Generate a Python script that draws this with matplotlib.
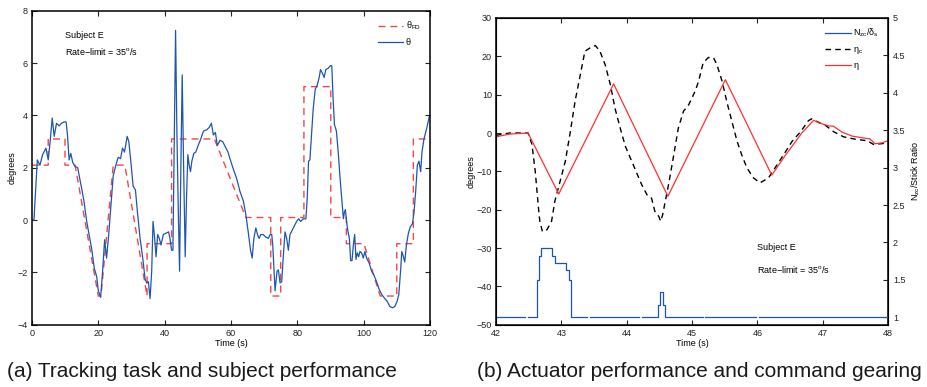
import numpy as np
import matplotlib
matplotlib.use("Agg")
import matplotlib.pyplot as plt

plt.rcParams['font.family'] = ['Liberation Sans', 'DejaVu Sans']
plt.rcParams['mathtext.fontset'] = 'custom'
plt.rcParams['mathtext.rm'] = 'Liberation Sans'
plt.rcParams['mathtext.it'] = 'Liberation Sans:italic'
plt.rcParams['mathtext.bf'] = 'Liberation Sans:bold'

# ---- (a) tracking task: commanded theta_FD and pilot theta ----
fd_t = [0, 4.9, 4.9, 9.95, 9.95, 13.0, 20.0, 20.8, 24.5, 28.0, 34.7, 34.7, 42.1, 42.1,
        55.0, 64.5, 72.0, 72.0, 75.0, 75.0, 82.0, 82.0, 90.1, 90.1, 94.8, 94.8, 100.1,
        105.0, 110.0, 110.0, 115.0, 115.0, 120]
fd_v = [2.1, 2.1, 3.1, 3.1, 2.1, 2.1, -2.9, -2.9, 2.1, 2.1, -2.9, -0.9, -0.9, 3.1,
        3.1, 0.1, 0.1, -2.9, -2.9, 0.1, 0.1, 5.1, 5.1, 0.1, 0.1, -0.9, -0.9,
        -2.9, -2.9, -0.9, -0.9, 3.1, 3.1]

th_t = [0, 0.6, 1.6, 2.4, 3.2, 4.2, 4.9, 5.4, 6.1, 6.7, 7.4, 8.2, 8.9, 9.7, 10.3, 10.7,
        11.2, 11.7, 12.3, 13.0, 13.8, 14.3, 15.0, 15.7, 16.5, 17.3, 18.0, 18.8, 19.5,
        20.0, 20.7, 21.3, 21.9, 22.5, 23.1, 23.8, 24.5, 25.3, 26.0, 26.7, 27.3, 27.9,
        28.7, 29.2, 29.8, 30.5, 31.2, 31.8, 32.6, 33.4, 34.1, 34.6, 35.1, 35.6, 36.1,
        36.5, 37.0, 37.4, 37.9, 38.4, 38.9, 39.6, 40.4, 41.2, 41.6, 42.1, 42.5, 42.9,
        43.3, 43.7, 44.1, 44.5, 44.9, 45.3, 45.7, 46.2, 46.6, 47.0, 47.4, 47.8, 48.2,
        48.8, 49.4, 50.1, 50.9, 51.7, 52.7, 53.5, 54.1, 54.7, 55.3, 55.9, 56.7, 57.5,
        58.3, 59.1, 59.7, 60.7, 61.7, 62.7, 63.7, 64.5, 65.2, 65.9, 66.4, 66.9, 67.5,
        68.0, 68.5, 69.0, 69.7, 70.5, 71.3, 71.8, 72.3, 72.6, 73.0, 73.3, 73.9, 74.3,
        74.8, 75.3, 75.8, 76.3, 76.8, 77.3, 77.8, 78.8, 79.8, 80.4, 81.0, 81.8, 82.6,
        83.0, 83.4, 83.8, 84.2, 84.8, 85.4, 86.0, 86.6, 87.0, 87.6, 88.1, 88.6, 89.3,
        90.0, 90.4, 90.8, 91.2, 91.8, 92.4, 92.9, 93.4, 93.9, 94.2, 94.5, 95.0, 95.3,
        95.7, 96.1, 96.5, 96.9, 97.3, 97.7, 98.1, 98.5, 98.9, 99.4, 99.9, 100.4, 100.9,
        101.7, 102.4, 103.1, 103.9, 104.7, 105.5, 106.4, 107.1, 107.9, 108.7, 109.4,
        110.1, 110.6, 111.2, 111.5, 111.9, 112.4, 112.9, 113.5, 114.1, 114.7, 115.2,
        115.7, 116.2, 116.7, 117.2, 117.6, 118.2, 119.0, 119.8, 120]
th_v = [0, 0, 2.3, 2.1, 2.5, 2.75, 2.3, 2.9, 3.9, 3.2, 3.7, 3.6, 3.7, 3.75, 3.75, 3.25,
        2.3, 2.55, 2.2, 2.05, 2.0, 1.65, 1.2, 0.7, -0.05, -0.6, -1.1, -1.85, -2.15,
        -2.7, -2.95, -1.95, -0.75, -1.45, -0.6, 0.55, 1.7, 2.1, 2.4, 2.35, 2.75, 2.6,
        3.2, 3.0, 2.25, 1.3, 1.15, 0.3, -0.7, -1.45, -2.25, -2.4, -2.35, -3.0, -1.95,
        -0.05, -0.7, -1.4, -0.55, -0.7, -0.95, -0.55, -0.5, -0.45, -0.7, -1.15, -1.15, 3.1,
        7.25, 3.35, 0.5, -1.95, 2.1, 5.55, 2.2, -1.4, 0.85, 2.5, 2.1, 1.85, 2.25,
        2.55, 2.6, 2.85, 3.1, 3.4, 3.45, 3.55, 3.7, 3.25, 3.35, 2.85, 3.05, 3.0,
        2.8, 2.6, 2.35, 1.95, 1.6, 1.1, 0.75, 0.2, -0.45, -1.15, -1.45, -0.7, -0.3,
        -0.55, -0.7, -0.55, -0.55, -0.65, -0.7, -0.55, -0.55, -0.95, -1.95, -2.7, -1.95, -1.9,
        -2.4, -2.35, -1.35, -0.45, -0.7, -1.15, -0.55, -0.3, -0.05, 0.05, -0.05, 0.05, 0.05,
        0.85, 2.25, 2.3, 3.1, 4.25, 5.0, 5.15, 5.45, 5.75, 5.6, 5.45, 5.75, 5.8,
        5.9, 5.9, 4.65, 3.65, 3.4, 2.5, 1.6, 0.85, 0.05, 0.3, 0.4, -0.2, -0.45,
        -0.7, -1.55, -1.55, -0.95, -0.55, -1.5, -1.25, -1.4, -1.2, -1.25, -1.45, -1.2, -1.45,
        -1.65, -1.95, -2.1, -2.35, -2.65, -2.85, -3.0, -3.1, -3.3, -3.35, -3.3,
        -3.1, -2.85, -1.85, -1.2, -1.35, -1.6, -0.95, -0.5, -0.25, -0.15, 0.3,
        1.1, 2.1, 2.25, 1.85, 2.6, 3.1, 3.5, 3.95, 4.0]

# ---- (b) actuator performance ----
eta_t = [42.0, 42.2, 42.49, 42.96, 43.80, 44.63, 45.51, 46.22, 46.30, 46.42, 46.55, 46.68,
         46.86, 46.95, 47.10, 47.16, 47.30, 47.45, 47.62, 47.72, 47.80, 47.90, 48.0]
eta_v = [-1.0, -0.3, 0.0, -15.9, 12.8, -16.5, 13.9, -11.0, -9.0, -6.0, -3.0, 0.0,
         3.3, 2.6, 1.8, 1.8, 0.2, -0.8, -1.3, -1.5, -2.8, -2.6, -2.0]

etac_t = [42.0, 42.21, 42.49, 42.55, 42.60, 42.65, 42.67, 42.71, 42.78, 42.85, 42.90, 42.98,
          43.06, 43.13, 43.21, 43.29, 43.36, 43.44, 43.52, 43.59, 43.67, 43.75, 43.82, 43.90,
          43.98, 44.10, 44.23, 44.31, 44.38, 44.43, 44.49, 44.52, 44.55, 44.59, 44.64, 44.72,
          44.79, 44.87, 44.95, 45.05, 45.10, 45.17, 45.25, 45.33, 45.38, 45.46, 45.53, 45.61,
          45.69, 45.76, 45.84, 45.94, 46.04, 46.17, 46.27, 46.40, 46.53, 46.66, 46.78, 46.83,
          46.91, 47.04, 47.17, 47.32, 47.52, 47.68, 47.78, 48.0]
etac_v = [-0.6, 0, 0, -3, -10, -19.6, -23, -25.7, -25.2, -23, -17.8, -12.6,
          -7.4, -0.4, 8.3, 15.2, 21.3, 22.2, 22.8, 21.3, 17.8, 12.6, 6.5, 1.3,
          -3.5, -8.3, -13.5, -16.1, -17, -20.4, -21.7, -23, -21.3, -17.8, -13.5, -5.7,
          1.3, 5.7, 7.4, 11.0, 13.5, 18.3, 19.7, 19.6, 17.8, 13.5, 8.3, 3,
          -2.2, -5.7, -9.1, -11.7, -13, -11.7, -9.1, -5.7, -2.2, 0.3, 3.2, 3.7,
          3.0, 2.0, 0.3, -1.0, -1.7, -2.0, -3.0, -2.6]

nz_t = [42.0, 42.44, 42.49, 42.62, 42.65, 42.69, 42.86, 42.91, 43.07, 43.11, 43.15, 43.39,
        43.44, 44.19, 44.24, 44.48, 44.51, 44.56, 44.59, 45.16, 45.20, 45.98, 46.02, 48.0]
nz_r = [1.0, np.nan, 1.0, 1.5, 1.82, 1.93, 1.82, 1.73, 1.63, 1.5, 1.0, np.nan,
        1.0, np.nan, 1.0, 1.17, 1.34, 1.17, 1.0, np.nan, 1.0, np.nan, 1.0, 1.0]

blue = '#1f55b0'
red_d = '#f04848'
red = '#ff3030'
fs = 6.5

fig = plt.figure(figsize=(9.27, 3.87), dpi=100)

def style(ax):
    ax.tick_params(direction='in', length=3.5, width=0.8, labelsize=fs, colors='#222222',
                   top=True, pad=3)
    for s in ax.spines.values():
        s.set_linewidth(1.1)

# left panel
ax1 = fig.add_axes([0.0345, 0.1607, 0.4293, 0.8116])
ax1.plot(fd_t, fd_v, color=red_d, ls=(0, (5, 3.5)), lw=1.0, label=r'$\mathrm{θ}_{\mathrm{FD}}$')
ax1.plot(th_t, th_v, color=blue, lw=0.9, label='θ')
ax1.set_xlim(0, 120)
ax1.set_ylim(-4, 8)
ax1.set_xticks(range(0, 121, 20))
ax1.set_yticks(range(-4, 9, 2))
style(ax1)
ax1.tick_params(right=True)
ax1.set_xlabel('Time (s)', fontsize=fs, labelpad=1)
ax1.set_ylabel('degrees', fontsize=fs, labelpad=1)
ax1.text(10, 7.05, 'Subject E', fontsize=fs, va='center')
ax1.text(10, 6.45, r'Rate$-$limit = 35$^{\mathrm{o}}$/s', fontsize=fs, va='center')
ax1.legend(loc='upper right', frameon=False, fontsize=fs, handlelength=2.8,
           handletextpad=0.3, labelspacing=0.6, borderaxespad=0.6)

# right panel
ax2 = fig.add_axes([0.5351, 0.1607, 0.4229, 0.793])
l2, = ax2.plot(etac_t, etac_v, color='black', ls=(0, (4, 3)), lw=1.0, label=r'$\mathrm{η}_{\mathrm{c}}$')
l3, = ax2.plot(eta_t, eta_v, color=red, lw=0.9, label='η')
ax2.set_xlim(42, 48)
ax2.set_ylim(-50, 30)
ax2.set_yticks(range(-50, 31, 10))
style(ax2)
ax2.set_xlabel('Time (s)', fontsize=fs, labelpad=1)
ax2.set_ylabel('degrees', fontsize=fs, labelpad=0.5)
ax2.text(46.0, -29.9, 'Subject E', fontsize=fs, va='center')
ax2.text(46.0, -35.6, r'Rate$-$limit = 35$^{\mathrm{o}}$/s', fontsize=fs, va='center')

ax3 = ax2.twinx()
l1, = ax3.plot(nz_t, nz_r, color=blue, lw=0.9, drawstyle='steps-post',
               label=r'$\mathrm{N}_{\mathrm{zc}}/\mathrm{δ}_{\mathrm{s}}$')
ax3.set_ylim(0.9, 5)
ax3.set_yticks(np.arange(1, 5.01, 0.5))
ax3.set_yticklabels(['1', '1.5', '2', '2.5', '3', '3.5', '4', '4.5', '5'])
ax3.tick_params(direction='in', length=3.5, width=0.8, labelsize=fs, colors='#222222')
ax3.set_ylabel(r'$\mathrm{N}_{\mathrm{zc}}$/Stick Ratio', fontsize=fs, labelpad=3)
ax3.legend(handles=[l1, l2, l3], loc='upper right', frameon=False, fontsize=fs,
           handlelength=2.8, handletextpad=0.3, labelspacing=0.6, borderaxespad=0.6)

fig.text(0.0075, 0.04, '(a) Tracking task and subject performance', fontsize=15,
         va='center', color='#1a1a1a')
fig.text(0.515, 0.04, '(b) Actuator performance and command gearing', fontsize=15,
         va='center', color='#1a1a1a')

fig.savefig('out.png', dpi=100)
